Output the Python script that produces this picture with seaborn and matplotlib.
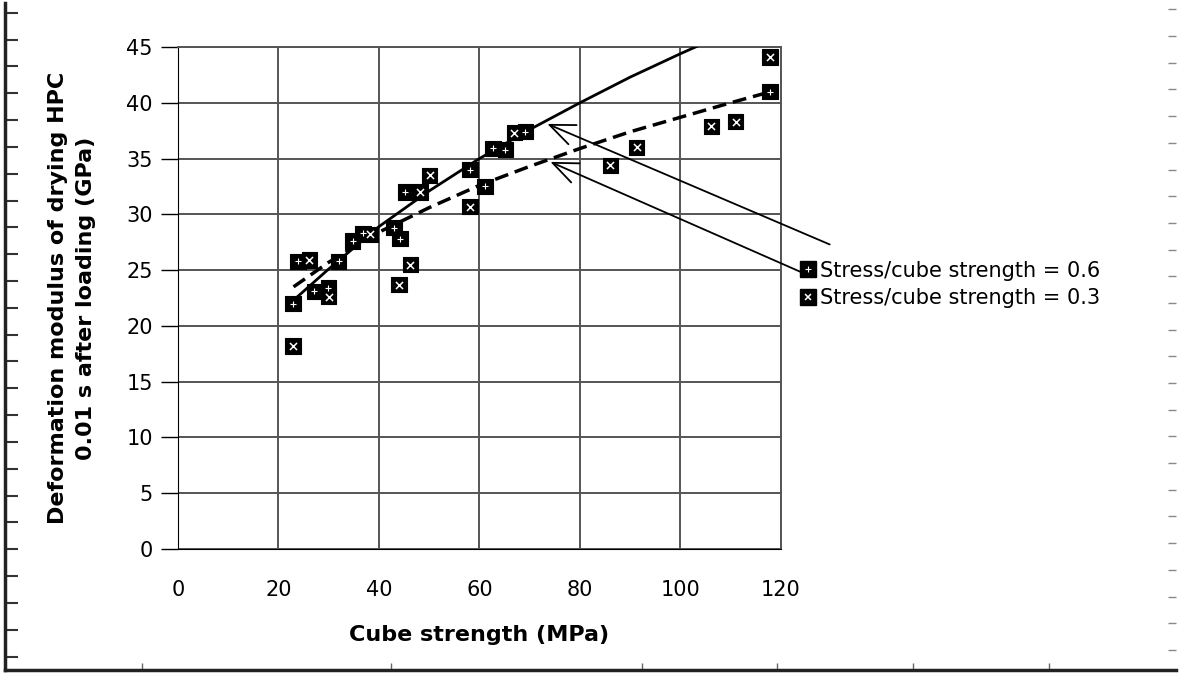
import numpy as np
import pandas as pd
import matplotlib
matplotlib.use('Agg')
import matplotlib.pyplot as plt
import seaborn as sns
from matplotlib.lines import Line2D

# data
x_06 = [22.9, 23.9, 27.1, 29.9, 32.0, 34.8, 36.8, 43.0, 44.2, 45.2, 58.1, 61.1, 62.7, 65.1, 69.1, 117.8]
y_06 = [22.0, 25.8, 23.1, 23.4, 25.8, 27.6, 28.3, 28.8, 27.8, 32.0, 34.0, 32.5, 35.9, 35.8, 37.4, 41.0]
x_03 = [22.9, 26.1, 30.0, 38.2, 44.0, 46.2, 48.2, 50.1, 58.1, 66.9, 86.0, 91.3, 106.1, 111.0, 117.8]
y_03 = [18.2, 25.9, 22.6, 28.2, 23.7, 25.5, 32.0, 33.5, 30.7, 37.3, 34.4, 36.0, 37.9, 38.3, 44.1]

# trend lines
trend_solid_x = [23, 30, 40, 50, 60, 70, 80, 90, 100, 105]
trend_solid_y = [22.3, 25.1, 28.9, 32.1, 35.0, 37.6, 40.0, 42.3, 44.4, 45.4]
trend_dash_x = [23, 30, 40, 50, 60, 70, 80, 90, 100, 110, 118]
trend_dash_y = [23.5, 25.7, 28.4, 30.6, 32.6, 34.3, 35.9, 37.4, 38.7, 40.0, 41.0]

labels = ['Stress/cube strength = 0.6', 'Stress/cube strength = 0.3']

df = pd.DataFrame({
    'x': x_06 + x_03,
    'y': y_06 + y_03,
    'series': [labels[0]] * len(x_06) + [labels[1]] * len(x_03),
})

sns.set_style('white')
plt.rcParams['font.family'] = ['DejaVu Sans']
plt.rcParams['text.color'] = 'black'
plt.rcParams['axes.labelcolor'] = 'black'
plt.rcParams['xtick.color'] = 'black'
plt.rcParams['ytick.color'] = 'black'

fig = plt.figure(figsize=(11.81, 6.74), dpi=100)

# outer scanned frame
frame = fig.add_axes([0.004, 0.006, 0.992, 0.99])
frame.set_xlim(0, 1)
frame.set_ylim(0, 1)
for s in ['top', 'right']:
    frame.spines[s].set_visible(False)
frame.spines['left'].set_linewidth(2.5)
frame.spines['bottom'].set_linewidth(2.5)
frame.spines['left'].set_color('#222222')
frame.spines['bottom'].set_color('#222222')
frame.set_yticks(np.linspace(0.985, 0.02, 25))
frame.set_xticks([0.117, 0.33, 0.544, 0.659, 0.775, 0.891])
frame.tick_params(axis='y', direction='in', length=9, width=1.5, color='#333333', left=True,
                  labelleft=False)
frame.tick_params(axis='x', direction='in', length=5, width=1, color='#666666', bottom=True,
                  labelbottom=False)
frame_r = frame.twinx()
frame_r.set_ylim(0, 1)
for s in frame_r.spines.values():
    s.set_visible(False)
frame_r.set_yticks(np.linspace(0.99, 0.03, 25))
frame_r.tick_params(direction='in', length=6, width=1, color='#888888', right=True, labelright=False)

ax = fig.add_axes([0.1507, 0.1855, 0.5106, 0.7448])
ax.set_xlim(0, 120)
ax.set_ylim(0, 45)

sns.lineplot(x=trend_solid_x, y=trend_solid_y, ax=ax, color='black', lw=2, zorder=3)
sns.lineplot(x=trend_dash_x, y=trend_dash_y, ax=ax, color='black', lw=2.5, zorder=3,
             linestyle=(0, (4, 2)))

sns.scatterplot(data=df, x='x', y='y', hue='series', palette=['black', 'black'],
                marker='s', s=120, edgecolor='black', linewidth=0.8, legend=False,
                ax=ax, zorder=4, clip_on=False)
ax.scatter(x_06, y_06, marker='+', s=18, color='white', lw=0.8, zorder=5, clip_on=False)
ax.scatter(x_03, y_03, marker='x', s=26, color='white', lw=1.1, zorder=5, clip_on=False)

ax.set_xticks(range(0, 121, 20))
ax.set_yticks(range(0, 46, 5))
ax.grid(True, color='#555555', lw=1.4)
for s in ['top', 'right']:
    ax.spines[s].set_color('#555555')
    ax.spines[s].set_linewidth(1.4)
ax.spines['left'].set_color('black')
ax.spines['bottom'].set_color('black')
ax.tick_params(axis='y', left=True, length=12, width=1, labelsize=15, pad=6)
ax.tick_params(axis='x', bottom=True, length=0, labelsize=15, pad=22)

ax.set_xlabel('Cube strength (MPa)', fontsize=16, fontweight='bold', labelpad=18)
ax.set_ylabel('Deformation modulus of drying HPC\n0.01 s after loading (GPa)', fontsize=16,
              fontweight='bold', labelpad=22, linespacing=1.5)

# arrows from legend to trend lines
arrow = dict(arrowstyle='->, head_length=1.8, head_width=0.75', color='black', lw=1.3)
ax.annotate('', xy=(73.0, 38.2), xytext=(130.2, 27.2), arrowprops=arrow, annotation_clip=False)
ax.annotate('', xy=(73.6, 34.8), xytext=(124.6, 24.7), arrowprops=arrow, annotation_clip=False)

h06 = (Line2D([], [], marker='s', color='black', ls='', ms=11),
       Line2D([], [], marker='+', color='white', mew=0.8, ls='', ms=5))
h03 = (Line2D([], [], marker='s', color='black', ls='', ms=11),
       Line2D([], [], marker='x', color='white', mew=1.1, ls='', ms=5))
ax.legend([h06, h03], labels, loc='center left', bbox_to_anchor=(1.02, 0.527),
          frameon=False, fontsize=15, handlelength=0.6, handletextpad=0.3,
          labelspacing=0.35, borderaxespad=0)

fig.savefig('out.png', dpi=100)
